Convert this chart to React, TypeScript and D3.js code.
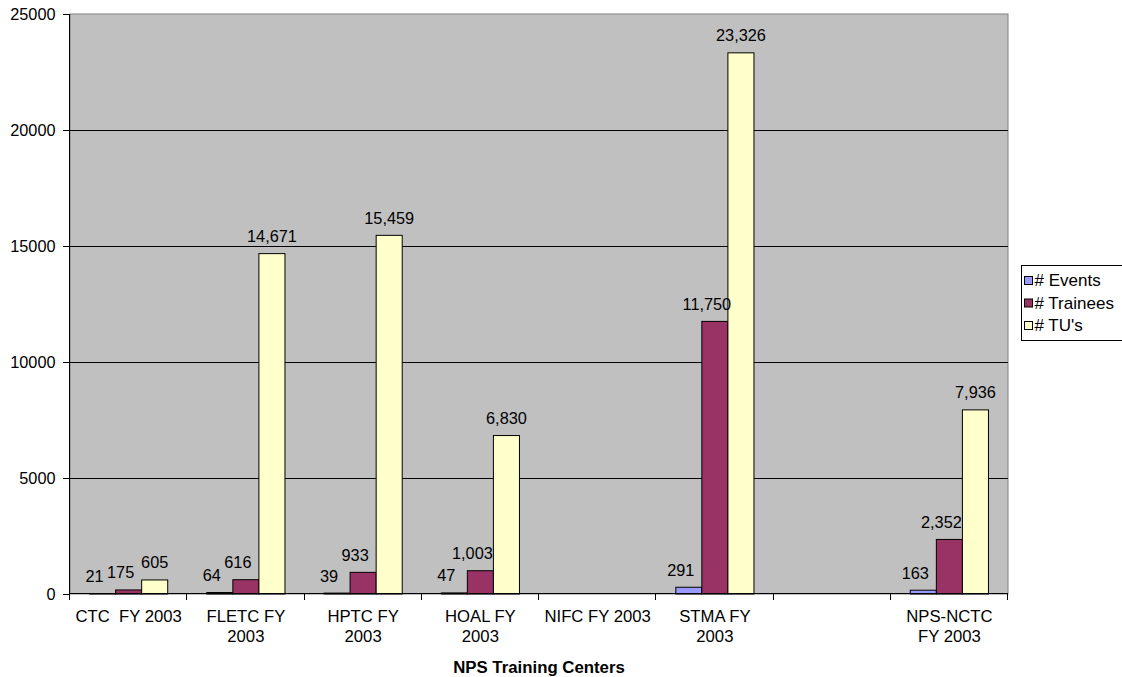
import React from "react";
import * as d3 from "d3";

const categories = [
  "CTC  FY 2003",
  "FLETC FY\n2003",
  "HPTC FY\n2003",
  "HOAL FY\n2003",
  "NIFC FY 2003",
  "STMA FY\n2003",
  "",
  "NPS-NCTC\nFY 2003",
];
const seriesNames = ["# Events", "# Trainees", "# TU's"];
const events: (number | null)[] = [21, 64, 39, 47, null, 291, null, 163];
const trainees: (number | null)[] = [175, 616, 933, 1003, null, 11750, null, 2352];
const tus: (number | null)[] = [605, 14671, 15459, 6830, null, 23326, null, 7936];
const yTicks = [0, 5000, 10000, 15000, 20000, 25000];
const xTitle = "NPS Training Centers";

const colors = ["#9999FF", "#993366", "#FFFFCC"];
const labelShift = [-8, -8, 0];
const FONT = "Arial, 'Liberation Sans', sans-serif";

export default function App() {
  const W = 1122, H = 677;
  const left = 70, right = 1008, top = 14, bottom = 594;
  const seriesData = [events, trainees, tus];
  const x = d3.scaleBand<number>().domain(d3.range(categories.length)).range([left, right]).padding(0);
  const xs = d3.scaleBand<number>().domain([0, 1, 2]).range([0, x.bandwidth()]).paddingInner(0).paddingOuter(0.75);
  const y = d3.scaleLinear().domain([0, 25000]).range([bottom, top]);
  const fmt = d3.format(",");
  const crisp = (v: number) => Math.round(v) + 0.5;
  const boundaries = d3.range(categories.length + 1).map((i) => left + i * x.step());

  return (
    <svg width={W} height={H} style={{ position: "absolute", left: 0, top: 0, background: "#fff" }} fontFamily={FONT}>
      <rect x={left} y={top} width={right - left} height={bottom - top} fill="#C0C0C0" stroke="#808080" strokeWidth={1} />
      {yTicks.filter((t) => t > 0 && t < 25000).map((t) => (
        <line key={"g" + t} x1={left} x2={right} y1={crisp(y(t))} y2={crisp(y(t))} stroke="#000" strokeWidth={1} />
      ))}
      {seriesData.map((arr, s) =>
        arr.map((v, i) =>
          v == null ? null : (
            <rect
              key={`b${s}-${i}`}
              x={(x(i) as number) + (xs(s) as number)}
              y={y(v)}
              width={xs.bandwidth()}
              height={bottom - y(v)}
              fill={colors[s]}
              stroke="#000"
              strokeWidth={1}
            />
          )
        )
      )}
      {seriesData.map((arr, s) =>
        arr.map((v, i) =>
          v == null ? null : (
            <text
              key={`l${s}-${i}`}
              x={(x(i) as number) + (xs(s) as number) + xs.bandwidth() / 2 + labelShift[s]}
              y={y(v) - 11.5}
              textAnchor="middle"
              fontSize={16.3}
              fill="#000"
            >
              {fmt(v)}
            </text>
          )
        )
      )}
      {/* axes */}
      <line x1={crisp(left) - 1} x2={crisp(left) - 1} y1={top} y2={bottom} stroke="#000" />
      <line x1={left} x2={right} y1={crisp(bottom) - 1} y2={crisp(bottom) - 1} stroke="#000" />
      {yTicks.map((t) => (
        <g key={"yt" + t}>
          <line x1={left - 7} x2={left} y1={crisp(y(t))} y2={crisp(y(t))} stroke="#000" />
          <text x={55.5} y={y(t)} dy="0.36em" textAnchor="end" fontSize={16.3}>
            {t}
          </text>
        </g>
      ))}
      {boundaries.map((b, i) => (
        <line key={"xt" + i} x1={crisp(b) - 1} x2={crisp(b) - 1} y1={bottom} y2={bottom + 6} stroke="#000" />
      ))}
      {categories.map((c, i) => (
        <text
          key={"xl" + i}
          x={(x(i) as number) + x.bandwidth() / 2}
          y={622}
          textAnchor="middle"
          fontSize={16.7}
          style={{ whiteSpace: "pre" }}
        >
          {c.split("\n").map((line, k) => (
            <tspan key={k} x={(x(i) as number) + x.bandwidth() / 2} dy={k === 0 ? 0 : 20}>
              {line}
            </tspan>
          ))}
        </text>
      ))}
      <text x={(left + right) / 2} y={673} textAnchor="middle" fontSize={16.8} fontWeight="bold">
        {xTitle}
      </text>
      {/* legend */}
      <rect x={1021.5} y={265.5} width={110} height={75} fill="#fff" stroke="#000" />
      {seriesNames.map((n, s) => (
        <g key={"lg" + s}>
          <rect x={1024.5} y={276.5 + s * 22.5} width={8} height={8} fill={colors[s]} stroke="#000" />
          <text x={1034.5} y={280 + s * 22.5} dy="0.36em" fontSize={17}>
            {n}
          </text>
        </g>
      ))}
    </svg>
  );
}
